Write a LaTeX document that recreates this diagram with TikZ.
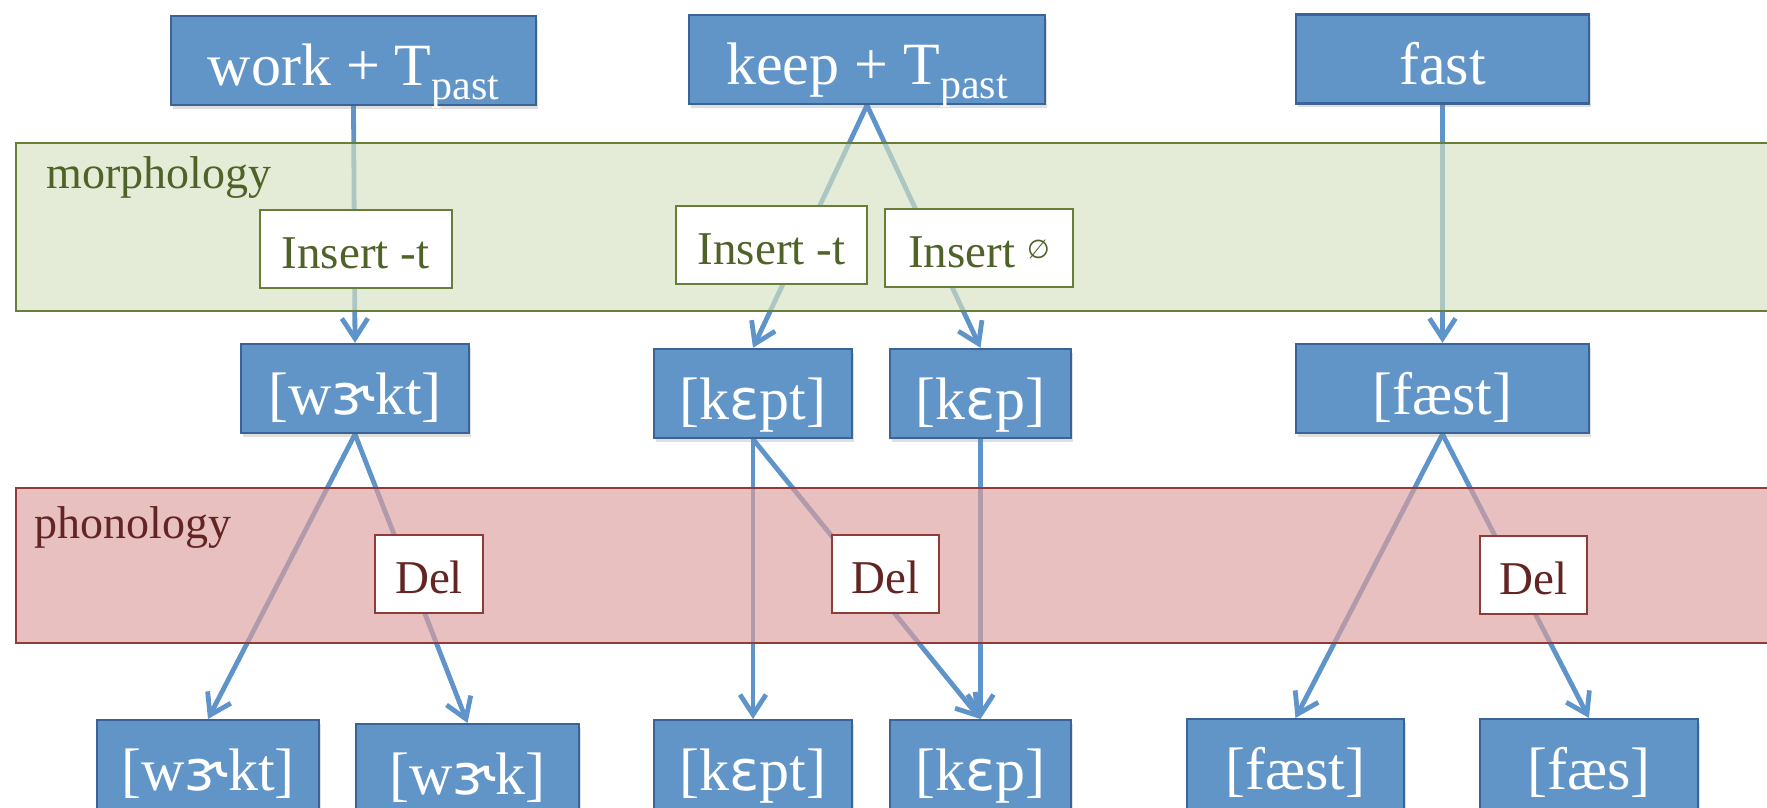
\documentclass[tikz,border=0pt]{standalone}
\usepackage{fontspec}
\setmainfont{Liberation Serif}
\newfontfamily\ipafont{DejaVu Sans}
\usetikzlibrary{arrows.meta,shadows}

\definecolor{boxfill}{RGB}{97,149,200}
\definecolor{boxedge}{RGB}{58,100,150}
\definecolor{arrowblue}{RGB}{94,148,201}
\definecolor{morphfill}{RGB}{214,226,194}
\definecolor{morphedge}{RGB}{104,126,56}
\definecolor{morphtext}{RGB}{79,98,40}
\definecolor{phonfill}{RGB}{220,158,157}
\definecolor{phonedge}{RGB}{143,59,58}
\definecolor{phontext}{RGB}{99,37,35}

\pgfdeclarelayer{lines}
\pgfdeclarelayer{bands}
\pgfsetlayers{lines,bands,main}

% IPA symbols and the past-tense subscript
\newcommand{\ipa}[1]{{\fontsize{28}{28}\ipafont #1}}
\newcommand{\Tpast}{T\raisebox{-7pt}{\fontsize{21}{21}\selectfont past}}

\tikzset{
  form/.style={draw=boxedge, line width=1.2pt, fill=boxfill, text=white,
    font=\fontsize{30}{30}\selectfont, inner sep=0pt,
    text height=35pt, text depth=9.5pt, minimum height=44.5pt,
    drop shadow={opacity=0.25, shadow xshift=0.8pt, shadow yshift=-1.8pt}},
  output/.style={form, anchor=north, text depth=25pt, minimum height=60pt},
  rulebox/.style={fill=white, line width=1pt, inner sep=0pt,
    text height=29pt, text depth=10pt, minimum height=39pt,
    font=\fontsize{23.5}{23.5}\selectfont},
  insertbox/.style={rulebox, draw=morphedge, text=morphtext},
  delbox/.style={rulebox, draw=phonedge, text=phontext},
  band/.style={anchor=north west, inner sep=0pt, line width=1pt, fill opacity=0.65},
  bandlabel/.style={anchor=base west, inner sep=0pt, font=\fontsize{23}{23}\selectfont},
  conn/.style={draw=arrowblue, line width=2.4pt,
    -{Straight Barb[length=10pt,width=13pt]}}
}

\begin{document}
\begin{tikzpicture}[x=0.5pt,y=-0.5pt]
\useasboundingbox (0,0) rectangle (1767,808);

% top row: inputs
\node[form, minimum width=182.5pt] (work) at (353.5,60.5) {work + \Tpast};
\node[form, minimum width=178pt] (keep) at (867,59.5) {keep + \Tpast};
\node[form, minimum width=146.5pt] (fast) at (1442.5,59) {fast};

% middle row: morphological outputs
\node[form, minimum width=114pt] (wkt1) at (355,388.5) {[w\ipa{ɝ}kt]};
\node[form, minimum width=99pt] (kept1) at (753,393.5) {[k\ipa{ɛ}pt]};
\node[form, minimum width=90.5pt] (kep1) at (980.5,393.5) {[k\ipa{ɛ}p]};
\node[form, minimum width=146.5pt] (faest1) at (1442.5,388.5) {[fæst]};

% bottom row: surface forms
\node[output, minimum width=111pt] (wkt2) at (208,719) {[w\ipa{ɝ}kt]};
\node[output, minimum width=111.5pt] (wk2) at (467.5,723) {[w\ipa{ɝ}k]};
\node[output, minimum width=99pt] (kept2) at (753,719) {[k\ipa{ɛ}pt]};
\node[output, minimum width=90.5pt] (kep2) at (980.5,719) {[k\ipa{ɛ}p]};
\node[output, minimum width=108.5pt] (faest2) at (1295.5,718) {[fæst]};
\node[output, minimum width=109pt] (faes2) at (1589,718) {[fæs]};

% rule labels
\node[insertbox, minimum width=96pt] (ins1) at (355.5,249) {Insert -t};
\node[insertbox, minimum width=95.5pt] (ins2) at (771.5,245) {Insert -t};
\node[insertbox, minimum width=94pt] (ins3) at (979,248) {Insert~\raisebox{4.5pt}{\fontsize{13}{13}\ipafont ∅}};
\node[delbox, minimum width=54pt] (del1) at (429,574) {Del};
\node[delbox, minimum width=53.5pt] (del2) at (885.5,574) {Del};
\node[delbox, minimum width=53.5pt] (del3) at (1533.5,575) {Del};

% component bands
\begin{pgfonlayer}{bands}
\node[band, draw=morphedge, fill=morphfill, minimum width=900pt, minimum height=84pt] (morph) at (15,142) {};
\node[band, draw=phonedge, fill=phonfill, minimum width=900pt, minimum height=77.5pt] (phon) at (15,487) {};
\end{pgfonlayer}
\node[bandlabel, text=morphtext] (morphlabel) at (46,188) {morphology};
\node[bandlabel, text=phontext] (phonlabel) at (34,538) {phonology};

% derivations
\begin{pgfonlayer}{lines}
\draw[conn] (work.south) -- (wkt1.north);
\draw[conn] (keep.south) -- (kept1.north);
\draw[conn] (keep.south) -- (kep1.north);
\draw[conn] (fast.south) -- (faest1.north);
\draw[conn] (wkt1.south) -- (wkt2.north);
\draw[conn] (wkt1.south) -- (wk2.north);
\draw[conn] (kept1.south) -- (kept2.north);
\draw[conn] (kept1.south) -- (kep2.north);
\draw[conn] (kep1.south) -- (kep2.north);
\draw[conn] (faest1.south) -- (faest2.north);
\draw[conn] (faest1.south) -- (faes2.north);
\end{pgfonlayer}
\end{tikzpicture}
\end{document}
